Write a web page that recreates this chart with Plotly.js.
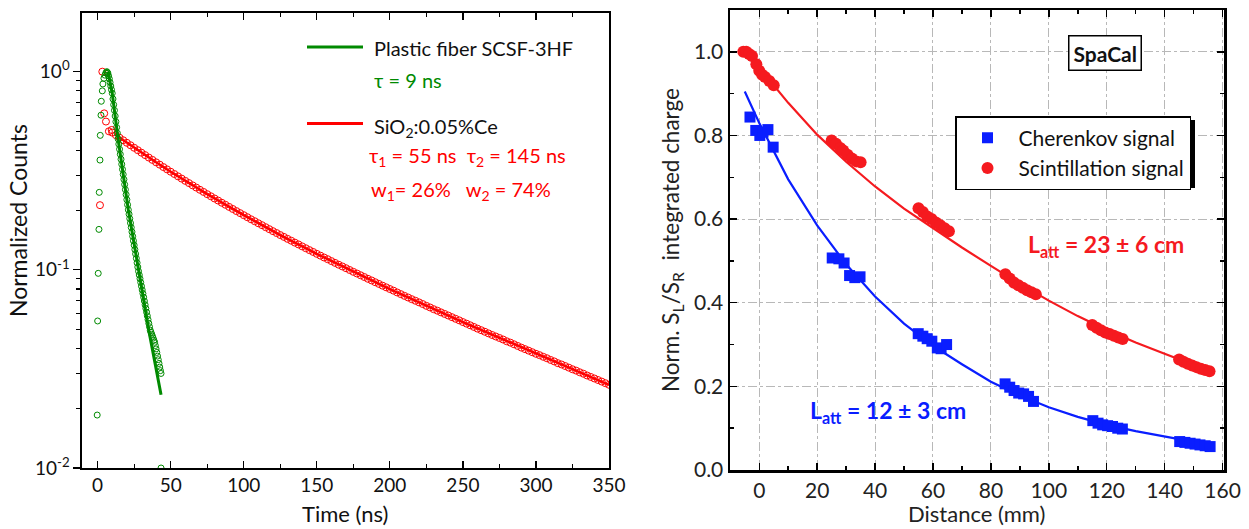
<!DOCTYPE html>
<html><head><meta charset="utf-8">
<script src="https://cdn.plot.ly/plotly-3.0.1.min.js"></script>
<style>html,body{margin:0;padding:0;background:#fff}#chart{width:1249px;height:529px}</style>
</head><body><div id="chart"></div>
<script>
// ---------- Left panel: decay curves ----------
const greenTime = [
  -0.3,0.0,0.4,0.9,1.1,1.6,1.8,2.3,2.5,3.2,3.6,4.3,5.0,5.6,6.2,
  6.5,7,7.5,8,8.5,9,9.5,10,10.5,11,11.5,12,12.5,13,13.5,14,14.5,15,15.5,16,16.5,17,17.5,18,18.5,19,19.5,20,
  20.5,21,21.5,22,22.5,23,23.5,24,24.5,25,25.5,26,26.5,27,27.5,28,28.5,29,29.5,30,30.5,31,31.5,32,32.5,33,
  33.5,34,34.5,35,35.5,36,36.5,37,37.5,38,38.5,39,39.5,40,40.5,41,41.5,42,42.5,43,43.4,43.4
];
const greenCounts = [
  0.0185,0.0552,0.096,0.16,0.246,0.358,0.477,0.603,0.709,0.80,0.867,0.926,0.96,0.985,1.0,
  0.993,0.984,0.952,0.921,0.883,0.846,0.811,0.778,0.728,0.681,0.638,0.597,0.559,0.523,0.489,0.458,0.431,0.406,0.383,0.3614,0.341,0.3214,0.303,0.2858,0.2695,0.2541,0.2396,0.2259,
  0.2130,0.2009,0.1909,0.1813,0.1722,0.1636,0.1554,0.1476,0.1402,0.1332,0.1266,0.1203,0.1142,0.1085,0.1033,0.0983,0.0942,0.0902,0.0864,0.0827,0.0792,0.0759,0.0727,0.0696,0.0666,0.0638,
  0.0611,0.0586,0.0561,0.0537,0.0516,0.0496,0.0484,0.0473,0.0462,0.0452,0.0441,0.0431,0.0415,0.0399,0.0383,0.0367,0.0352,0.0337,0.0323,0.0310,0.0300,0.0100
];
const greenFitTime   = [6.8, 7.3, 10, 14.1, 21, 27.8, 35.8, 43.4];
const greenFitCounts = [1.0, 0.98, 0.778, 0.452, 0.201, 0.100, 0.0461, 0.0234];

const redTime = [
  1.6,3.2,4.5,5.7,7.7,9.6,
  10,12.5,15,17.5,20,22.5,25,27.5,
  30,32.5,35,37.5,40,42.5,45,47.5,
  50,52.5,55,57.5,60,62.5,65,67.5,
  70,72.5,75,77.5,80,82.5,85,87.5,
  90,92.5,95,97.5,100,102.5,105,107.5,
  110,112.5,115,117.5,120,122.5,125,127.5,
  130,132.5,135,137.5,140,142.5,145,147.5,
  150,152.5,155,157.5,160,162.5,165,167.5,
  170,172.5,175,177.5,180,182.5,185,187.5,
  190,192.5,195,197.5,200,202.5,205,207.5,
  210,212.5,215,217.5,220,222.5,225,227.5,
  230,232.5,235,237.5,240,242.5,245,247.5,
  250,252.5,255,257.5,260,262.5,265,267.5,
  270,272.5,275,277.5,280,282.5,285,287.5,
  290,292.5,295,297.5,300,302.5,305,307.5,
  310,312.5,315,317.5,320,322.5,325,327.5,
  330,332.5,335,337.5,340,342.5,345,347.5,
  350
];
const redCounts = [
  0.212,1.0,0.616,0.56,0.50,0.508,
  0.4925,0.4783,0.4640,0.4508,0.4375,0.4253,0.4130,0.4015,
  0.3900,0.3793,0.3686,0.3587,0.3487,0.3394,0.3300,0.3213,
  0.3126,0.3045,0.2963,0.2887,0.2811,0.2740,0.2668,0.2601,
  0.2534,0.2472,0.2409,0.2350,0.2291,0.2236,0.2180,0.2129,
  0.2077,0.2028,0.1979,0.1933,0.1887,0.1843,0.1799,0.1759,
  0.1718,0.1680,0.1641,0.1604,0.1567,0.1533,0.1498,0.1466,
  0.1433,0.1403,0.1372,0.1343,0.1313,0.1285,0.1257,0.1231,
  0.1204,0.1179,0.1154,0.1131,0.1107,0.1084,0.1061,0.1040,
  0.1019,0.0998,0.0977,0.0958,0.0939,0.0920,0.0901,0.0884,
  0.0866,0.0849,0.0832,0.0816,0.0800,0.0785,0.0769,0.0754,
  0.0739,0.0725,0.0711,0.0698,0.0685,0.0672,0.0658,0.0646,
  0.0633,0.0622,0.0610,0.0599,0.0588,0.0577,0.0566,0.0556,
  0.0545,0.0535,0.0525,0.0515,0.0505,0.0496,0.0487,0.0478,
  0.0469,0.0461,0.0453,0.0445,0.0436,0.0429,0.0421,0.0413,
  0.0405,0.0398,0.0391,0.0384,0.0377,0.0371,0.0364,0.0358,
  0.0351,0.0345,0.0338,0.0333,0.0327,0.0321,0.0315,0.0310,
  0.0304,0.0299,0.0293,0.0288,0.0283,0.0278,0.0273,0.0268,
  0.0263
];
const redFitTime   = [11.8, 20, 30, 40, 50, 60, 75, 100, 125, 150, 175, 200, 250, 300, 350];
const redFitCounts = [0.482, 0.4375, 0.390, 0.3487, 0.3126, 0.2811, 0.2409, 0.1887, 0.1498, 0.1204, 0.0977, 0.0800, 0.0545, 0.0377, 0.0263];

const logTickVals  = [0.01, 0.1, 1];
const logTickText  = ['10<sup>-2</sup>', '10<sup>-1</sup>', '10<sup>0</sup>'];
const logMinorVals = [0.02,0.03,0.04,0.05,0.06,0.07,0.08,0.09,0.2,0.3,0.4,0.5,0.6,0.7,0.8,0.9];

// ---------- Right panel: SpaCal attenuation ----------
const scintDist = [-5.5,-4.5,-3.5,-2.5,-1,0,1,2,3.5,5,
  25,26.5,28,29,30.5,32,33.5,35,
  55,56.5,58,59.5,61,62.5,64,65.5,
  85,86.5,88,89.5,91,92.5,94,95.5,
  115,116.5,118,119.5,121,122.5,124,125.5,
  145,146.5,148,149.5,151,152.5,154,155.5];
const scintCharge = [1.0,1.0,0.995,0.99,0.97,0.955,0.945,0.94,0.93,0.92,
  0.788,0.780,0.770,0.764,0.754,0.745,0.738,0.736,
  0.626,0.617,0.606,0.600,0.592,0.585,0.578,0.571,
  0.468,0.458,0.448,0.442,0.436,0.430,0.425,0.420,
  0.347,0.340,0.334,0.329,0.325,0.321,0.317,0.313,
  0.264,0.259,0.254,0.250,0.246,0.242,0.239,0.236];
const cherDist = [-3.2,-1.2,0.2,1.3,3.0,4.8,
  25.2,27.5,29.3,31.2,33,34.8,
  54.9,56.5,58,59.6,61.5,62.8,64.7,
  84.9,86.5,88,89.6,91.3,93,94.7,
  115.2,117,118.6,120.3,122,123.8,125.4,
  145.2,147,148.8,150.5,152.2,154,155.7];
const cherCharge = [0.844,0.812,0.800,0.808,0.814,0.772,
  0.507,0.505,0.495,0.465,0.460,0.462,
  0.326,0.320,0.314,0.308,0.292,0.290,0.300,
  0.206,0.198,0.190,0.184,0.182,0.176,0.164,
  0.118,0.112,0.108,0.106,0.104,0.100,0.098,
  0.068,0.066,0.064,0.062,0.060,0.058,0.056];
const scintFitDist   = [-5,0,10,20,30,40,50,60,70,80,90,100,110,120,130,140,150,155.7];
const scintFitCharge = [1.0,0.962,0.878,0.802,0.737,0.678,0.625,0.578,0.532,0.488,0.445,0.405,0.368,0.335,0.305,0.278,0.252,0.236];
const cherFitDist    = [-5,0,10,20,30,40,50,60,70,80,90,100,110,120,130,140,150,155.7];
const cherFitCharge  = [0.905,0.83,0.695,0.585,0.492,0.415,0.350,0.297,0.253,0.211,0.178,0.150,0.127,0.108,0.093,0.080,0.068,0.060];

// ---------- Layout helpers ----------
const W = 1249, H = 529;
const px = x => x / W, py = y => 1 - y / H;
const FONT = 'Lato, "Open Sans", sans-serif';
const GREEN = '#008a00', RED = '#ff0000', BLUE = '#0a1eff', RRED = '#f51a1f';

const traces = [
  {x: redFitTime, y: redFitCounts, xaxis:'x', yaxis:'y', mode:'lines', line:{color:RED, width:2.5}, showlegend:false, hoverinfo:'skip'},
  {x: redTime, y: redCounts, xaxis:'x', yaxis:'y', mode:'markers', marker:{symbol:'circle-open', size:7, color:RED, line:{width:1}}, showlegend:false},
  {x: greenTime, y: greenCounts, xaxis:'x', yaxis:'y', mode:'markers', marker:{symbol:'circle-open', size:6, color:GREEN, line:{width:1}}, showlegend:false},
  {x: greenFitTime, y: greenFitCounts, xaxis:'x', yaxis:'y', mode:'lines', line:{color:GREEN, width:3}, showlegend:false, hoverinfo:'skip'},

  {x: cherFitDist, y: cherFitCharge, xaxis:'x2', yaxis:'y2', mode:'lines', line:{color:BLUE, width:2.2}, showlegend:false, hoverinfo:'skip'},
  {x: scintFitDist, y: scintFitCharge, xaxis:'x2', yaxis:'y2', mode:'lines', line:{color:RRED, width:2.2}, showlegend:false, hoverinfo:'skip'},
  {x: cherDist, y: cherCharge, xaxis:'x2', yaxis:'y2', mode:'markers', name:'Cherenkov signal', marker:{symbol:'square', size:11, color:BLUE}},
  {x: scintDist, y: scintCharge, xaxis:'x2', yaxis:'y2', mode:'markers', name:'Scintillation signal', marker:{symbol:'circle', size:12, color:RRED}}
];

const tickFontL = {family: FONT, size: 19, color:'#111'};
const tickFontR = {family: FONT, size: 21, color:'#222'};

const layout = {
  width: W, height: H,
  margin: {l:0, r:0, t:0, b:0},
  paper_bgcolor: '#fff', plot_bgcolor: 'rgba(0,0,0,0)',
  font: {family: FONT, color: '#000'},
  xaxis: {
    domain: [px(82), px(609)], anchor: 'y', range: [-10.7, 350],
    tickmode: 'linear', tick0: 0, dtick: 50,
    ticks: 'inside', ticklen: 7, tickwidth: 1.3, tickcolor: '#000',
    minor: {tick0: 0, dtick: 25, ticks: 'inside', ticklen: 4, tickwidth: 1.2, tickcolor: '#000'},
    showline: true, linecolor: '#000', linewidth: 1.6, mirror: 'ticks',
    showgrid: false, zeroline: false, tickfont: tickFontL
  },
  yaxis: {
    domain: [py(468), py(13)], anchor: 'x', type: 'log', range: [-2, 0.296],
    tickmode: 'array', tickvals: logTickVals, ticktext: logTickText,
    ticks: 'outside', ticklen: 7, tickwidth: 1.3, tickcolor: '#000',
    minor: {tickmode: 'array', tickvals: logMinorVals, ticks: 'outside', ticklen: 4, tickwidth: 1.2, tickcolor: '#000'},
    showline: true, linecolor: '#000', linewidth: 1.6, mirror: true,
    showgrid: false, zeroline: false, tickfont: tickFontL
  },
  yaxis3: {
    overlaying: 'y', side: 'right', anchor: 'x', type: 'log', range: [-2, 0.296],
    tickmode: 'array', tickvals: logTickVals, showticklabels: false,
    ticks: 'inside', ticklen: 7, tickwidth: 1.3, tickcolor: '#000',
    minor: {tickmode: 'array', tickvals: logMinorVals, ticks: 'inside', ticklen: 4, tickwidth: 1.2, tickcolor: '#000'},
    showline: false, showgrid: false, zeroline: false
  },
  xaxis2: {
    domain: [px(730), px(1224)], anchor: 'y2', range: [-10.1, 160.5],
    tickmode: 'linear', tick0: 0, dtick: 20,
    ticks: 'inside', ticklen: 7, tickwidth: 1.5, tickcolor: '#000',
    minor: {tick0: 0, dtick: 10, ticks: 'inside', ticklen: 4, tickwidth: 1.5, tickcolor: '#000'},
    showline: true, linecolor: '#000', linewidth: 2.5, mirror: 'ticks',
    showgrid: true, gridcolor: '#b8b8b8', gridwidth: 1, griddash: 'dashdot',
    zeroline: false, tickfont: tickFontR
  },
  yaxis2: {
    domain: [py(470), py(10)], anchor: 'x2', range: [0, 1.1],
    tickmode: 'linear', tick0: 0, dtick: 0.2, tickformat: '.1f',
    ticks: 'inside', ticklen: 7, tickwidth: 1.5, tickcolor: '#000',
    minor: {tick0: 0, dtick: 0.1, ticks: 'inside', ticklen: 4, tickwidth: 1.5, tickcolor: '#000'},
    showline: true, linecolor: '#000', linewidth: 2.5, mirror: 'ticks',
    showgrid: true, gridcolor: '#b8b8b8', gridwidth: 1, griddash: 'dashdot',
    zeroline: false, tickfont: tickFontR
  },
  showlegend: true,
  legend: {
    x: px(955), y: py(116), xanchor: 'left', yanchor: 'top',
    bgcolor: '#fff', bordercolor: '#000', borderwidth: 1.5,
    font: {family: FONT, size: 21, color: '#111'}, itemwidth: 52, tracegroupgap: 0
  },
  shapes: [
    {type:'line', xref:'paper', yref:'paper', x0:px(307), x1:px(363), y0:py(47), y1:py(47), line:{color:GREEN, width:3}},
    {type:'line', xref:'paper', yref:'paper', x0:px(307), x1:px(363), y0:py(123.5), y1:py(123.5), line:{color:RED, width:3}},
    {type:'rect', xref:'paper', yref:'paper', x0:px(959), x1:px(1195), y0:py(120), y1:py(188), fillcolor:'#000', line:{width:0}}
  ],
  annotations: [
    {text:'Plastic fiber SCSF-3HF', x:px(372), y:py(48), xref:'paper', yref:'paper', xanchor:'left', yanchor:'middle', showarrow:false, font:{family:FONT, size:20, color:'#111'}},
    {text:'τ = 9 ns', x:px(372), y:py(80), xref:'paper', yref:'paper', xanchor:'left', yanchor:'middle', showarrow:false, font:{family:FONT, size:20, color:GREEN}},
    {text:'SiO<sub>2</sub>:0.05%Ce', x:px(372), y:py(128), xref:'paper', yref:'paper', xanchor:'left', yanchor:'middle', showarrow:false, font:{family:FONT, size:20, color:'#111'}},
    {text:'τ<sub>1</sub> = 55 ns\u00a0\u00a0τ<sub>2</sub> = 145 ns', x:px(367), y:py(157), xref:'paper', yref:'paper', xanchor:'left', yanchor:'middle', showarrow:false, font:{family:FONT, size:20, color:RED}},
    {text:'w<sub>1</sub>= 26%\u00a0\u00a0\u00a0w<sub>2</sub> = 74%', x:px(369), y:py(190), xref:'paper', yref:'paper', xanchor:'left', yanchor:'middle', showarrow:false, font:{family:FONT, size:20, color:RED}},
    {text:'Time (ns)', x:px(345), y:py(513), xref:'paper', yref:'paper', xanchor:'center', yanchor:'middle', showarrow:false, font:{family:FONT, size:22, color:'#111'}},
    {text:'Normalized Counts', x:px(18), y:py(221), xref:'paper', yref:'paper', xanchor:'center', yanchor:'middle', textangle:-90, showarrow:false, font:{family:FONT, size:23, color:'#111'}},

    {text:'Distance (mm)', x:px(976), y:py(513), xref:'paper', yref:'paper', xanchor:'center', yanchor:'middle', showarrow:false, font:{family:FONT, size:22, color:'#222'}},
    {text:'Norm. S<sub>L</sub>/S<sub>R</sub>\u00a0 integrated charge', x:px(672), y:py(240), xref:'paper', yref:'paper', xanchor:'center', yanchor:'middle', textangle:-90, showarrow:false, font:{family:FONT, size:22.5, color:'#222'}},
    {text:'<b>SpaCal</b>', x:px(1104.5), y:py(53.5), xref:'paper', yref:'paper', xanchor:'center', yanchor:'middle', showarrow:false, bgcolor:'#fff', bordercolor:'#000', borderwidth:1.5, borderpad:4, font:{family:FONT, size:21, color:'#111'}},
    {text:'<b>L<sub>att</sub> = 23 ± 6 cm</b>', x:px(1106), y:py(245), xref:'paper', yref:'paper', xanchor:'center', yanchor:'middle', showarrow:false, font:{family:FONT, size:23, color:RRED}},
    {text:'<b>L<sub>att</sub> = 12 ± 3 cm</b>', x:px(888), y:py(411), xref:'paper', yref:'paper', xanchor:'center', yanchor:'middle', showarrow:false, font:{family:FONT, size:23, color:BLUE}}
  ]
};

Plotly.newPlot('chart', traces, layout, {staticPlot: true, displayModeBar: false});
</script></body></html>
